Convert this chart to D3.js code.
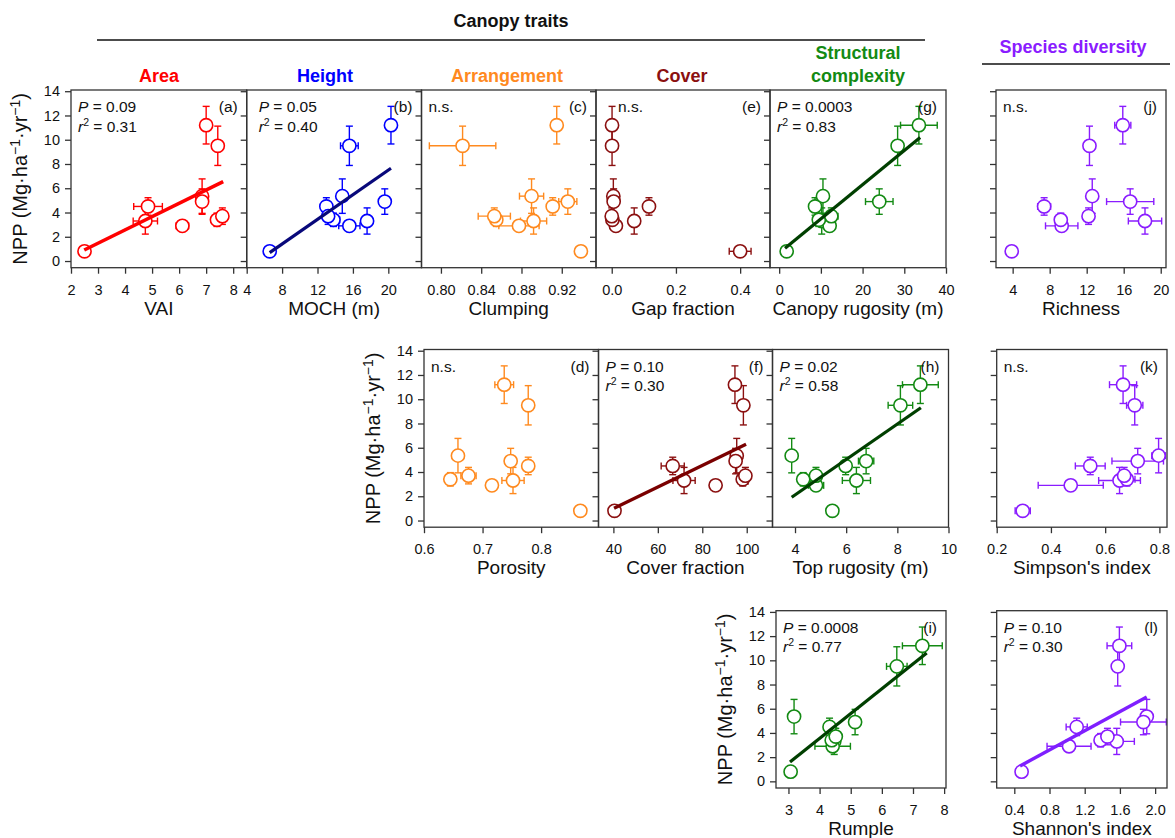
<!DOCTYPE html>
<html>
<head>
<meta charset="utf-8">
<script src="https://cdn.jsdelivr.net/npm/d3@7"></script>
<style>
  body { margin: 0; background: #fff; }
  svg text { font-family: "Liberation Sans", Arial, sans-serif; }
</style>
</head>
<body>
<svg id="chart"></svg>
<script>
// ---- data: ten plots, same order in every array ----
const npp        = [11.2, 9.5, 5.35, 4.9, 4.5, 3.3, 2.9, 3.4, 3.7, 0.8];
const nppSE      = [1.55, 1.62, 1.42, 1.05, 0.72, 1.08, 0, 0.55, 0.68, 0];

const vai        = [7.0, 7.43, 6.85, 6.85, 4.85, 4.75, 6.12, 7.4, 7.6, 2.5];
const vaiSE      = [0, 0, 0, 0, 0.53, 0.45, 0.23, 0, 0.1, 0];
const moch       = [20.3, 15.6, 14.8, 19.6, 13.0, 17.6, 15.6, 13.8, 13.2, 6.6];
const mochSE     = [0.6, 1.0, 0, 0.55, 0.4, 0.6, 1.2, 0.7, 0.3, 0];
const clumping   = [0.915, 0.8215, 0.890, 0.926, 0.911, 0.892, 0.8775, 0.855, 0.853, 0.939];
const clumpingSE = [0, 0.033, 0.012, 0.009, 0.004, 0.013, 0.02, 0.004, 0.016, 0];
const gapFrac    = [0.001, 0.001, 0.005, 0.006, 0.116, 0.07, 0.013, 0.002, 0.0, 0.4];
const gapFracSE  = [0, 0, 0, 0, 0.007, 0.008, 0, 0, 0, 0.034];
const canopyRug  = [33.5, 28.4, 10.5, 24.0, 8.6, 10.2, 12.1, 9.5, 12.5, 1.8];
const canopyRugSE= [4.4, 1.0, 0, 3.3, 0, 0.6, 0, 0.8, 1.6, 0];
const porosity   = [0.737, 0.778, 0.658, 0.748, 0.778, 0.752, 0.716, 0.645, 0.676, 0.867];
const porositySE = [0.016, 0.004, 0, 0.004, 0.006, 0.019, 0, 0.006, 0.013, 0];
const coverFrac  = [94.7, 98.5, 95.5, 95.0, 66.7, 71.8, 86.0, 98.2, 99.4, 40.5];
const coverFracSE= [0, 0, 0, 0, 5.2, 5.0, 0, 0, 0, 1.6];
const topRug     = [8.9, 8.12, 3.87, 6.78, 5.98, 6.4, 4.82, 4.32, 4.82, 5.46];
const topRugSE   = [0.7, 0.48, 0, 0.3, 0, 0.55, 0.3, 0.2, 0, 0];
const rumple     = [7.3, 6.48, 3.18, 5.14, 4.32, 4.47, 4.42, 4.39, 4.52, 3.07];
const rumpleSE   = [0.64, 0.33, 0, 0.15, 0, 0.1, 0.57, 0.1, 0.1, 0];
const richness   = [15.9, 12.3, 12.6, 16.7, 7.4, 18.3, 9.3, 9.2, 12.2, 3.9];
const richnessSE = [0.87, 0.5, 0, 2.55, 0.7, 1.8, 1.75, 0.6, 0.6, 0];
const simpson    = [0.666, 0.709, 0.797, 0.72, 0.545, 0.653, 0.473, 0.68, 0.67, 0.296];
const simpsonSE  = [0.05, 0.03, 0.025, 0.095, 0.055, 0.077, 0.12, 0.03, 0, 0.028];
const shannon    = [1.594, 1.575, 1.905, 1.867, 1.109, 1.564, 1.022, 1.38, 1.458, 0.483];
const shannonSE  = [0.14, 0.05, 0, 0.26, 0.12, 0.2, 0.25, 0.06, 0.04, 0];

// fitted line end points [x, NPP]
const fitVAI       = [[2.49, 0.91], [7.63, 6.55]];
const fitMOCH      = [[6.6, 0.69], [20.3, 7.65]];
const fitCanopyRug = [[1.4, 1.05], [33.8, 10.18]];
const fitCover     = [[40.3, 1.02], [99.7, 6.29]];
const fitTopRug    = [[3.87, 1.92], [8.92, 9.3]];
const fitRumple    = [[3.05, 1.6], [7.44, 10.6]];
const fitShannon   = [[0.465, 1.27], [1.905, 6.97]];

const yTicks = [0, 2, 4, 6, 8, 10, 12, 14];

// colours
const cArea = "#ff0000", cHeight = "#0000ff", cArr = "#ff8a1f", cCover = "#8b1010",
      cStruct = "#138a13", cSpecies = "#8a1cff";

const W = 1175, H = 838;
const svg = d3.select("#chart").attr("width", W).attr("height", H);

// panel layout [left, top, right, bottom]
const r1 = [90, 267.7], r2 = [349.5, 527.2], r3 = [610.7, 788];
const panels = [
  {tag: "(a)", x: vai, xe: vaiSE, xt: "VAI", box: [71, r1[0], 246.7, r1[1]], dom: [2, 8.5], ticks: [2,3,4,5,6,7,8], fmt: "d",
   col: cArea, line: "#ff0000", lw: 3.6, fit: fitVAI, stats: ["0.09", "0.31"], ylab: true},
  {tag: "(b)", x: moch, xe: mochSE, xt: "MOCH (m)", box: [246.7, r1[0], 421.5, r1[1]], dom: [4, 23.75], ticks: [4,8,12,16,20], fmt: "d",
   col: cHeight, line: "#08087a", lw: 3.2, fit: fitMOCH, stats: ["0.05", "0.40"], sx: 12},
  {tag: "(c)", x: clumping, xe: clumpingSE, xt: "Clumping", box: [421.5, r1[0], 596, r1[1]], dom: [0.7807, 0.954], ticks: [0.80,0.84,0.88,0.92], fmt: ".2f",
   col: cArr},
  {tag: "(e)", x: gapFrac, xe: gapFracSE, xt: "Gap fraction", box: [596, r1[0], 770, r1[1]], dom: [-0.049, 0.493], ticks: [0,0.2,0.4], fmt: ".1f",
   col: cCover, sx: 22},
  {tag: "(g)", x: canopyRug, xe: canopyRugSE, xt: "Canopy rugosity (m)", box: [770, r1[0], 946, r1[1]], dom: [-2.2, 40], ticks: [0,10,20,30,40], fmt: "d",
   col: cStruct, line: "#003f00", lw: 3.2, fit: fitCanopyRug, stats: ["0.0003", "0.83"]},
  {tag: "(j)", x: richness, xe: richnessSE, xt: "Richness", box: [996, r1[0], 1166, r1[1]], dom: [2.2, 20.57], ticks: [4,8,12,16,20], fmt: "d",
   col: cSpecies},

  {tag: "(d)", x: porosity, xe: porositySE, xt: "Porosity", box: [424, r2[0], 598.5, r2[1]], dom: [0.6, 0.898], ticks: [0.6,0.7,0.8], fmt: ".1f",
   col: cArr, ylab: true},
  {tag: "(f)", x: coverFrac, xe: coverFracSE, xt: "Cover fraction", box: [598.5, r2[0], 772.5, r2[1]], dom: [33.3, 111.6], ticks: [40,60,80,100], fmt: "d",
   col: cCover, line: "#7a0000", lw: 3.4, fit: fitCover, stats: ["0.10", "0.30"]},
  {tag: "(h)", x: topRug, xe: topRugSE, xt: "Top rugosity (m)", box: [772.5, r2[0], 948.5, r2[1]], dom: [3.12, 10], ticks: [4,6,8,10], fmt: "d",
   col: cStruct, line: "#003f00", lw: 3.2, fit: fitTopRug, stats: ["0.02", "0.58"]},
  {tag: "(k)", x: simpson, xe: simpsonSE, xt: "Simpson's index", box: [996.7, r2[0], 1167, r2[1]], dom: [0.2, 0.828], ticks: [0.2,0.4,0.6,0.8], fmt: ".1f",
   col: cSpecies},

  {tag: "(i)", x: rumple, xe: rumpleSE, xt: "Rumple", box: [776, r3[0], 946, r3[1]], dom: [2.6, 8.06], ticks: [3,4,5,6,7,8], fmt: "d",
   col: cStruct, line: "#003f00", lw: 3.2, fit: fitRumple, stats: ["0.0008", "0.77"], ylab: true},
  {tag: "(l)", x: shannon, xe: shannonSE, xt: "Shannon's index", box: [996.7, r3[0], 1167, r3[1]], dom: [0.2, 2.135], ticks: [0.4,0.8,1.2,1.6,2.0], fmt: ".1f",
   col: cSpecies, line: "#7f1fff", lw: 3.4, fit: fitShannon, stats: ["0.10", "0.30"]}
];

const R = 6.6, CAP = 3.5;

panels.forEach(p => {
  const [x0, y0, x1, y1] = p.box;
  const x = d3.scaleLinear().domain(p.dom).range([x0, x1]);
  const y = d3.scaleLinear().domain([-0.55, 14.1]).range([y1, y0]);
  const g = svg.append("g");

  const pts = p.x.map((v, i) => ({x: v, xe: p.xe[i], y: npp[i], ye: nppSE[i]}));

  // error bars
  const eb = g.append("g").attr("stroke", p.col).attr("stroke-width", 1.4).attr("fill", "none");
  pts.forEach(d => {
    if (d.ye > 0) {
      eb.append("line").attr("x1", x(d.x)).attr("x2", x(d.x)).attr("y1", y(d.y - d.ye)).attr("y2", y(d.y + d.ye));
      [d.y - d.ye, d.y + d.ye].forEach(v =>
        eb.append("line").attr("x1", x(d.x) - CAP).attr("x2", x(d.x) + CAP).attr("y1", y(v)).attr("y2", y(v)));
    }
    if (d.xe > 0) {
      eb.append("line").attr("y1", y(d.y)).attr("y2", y(d.y)).attr("x1", x(d.x - d.xe)).attr("x2", x(d.x + d.xe));
      [d.x - d.xe, d.x + d.xe].forEach(v =>
        eb.append("line").attr("y1", y(d.y) - CAP).attr("y2", y(d.y) + CAP).attr("x1", x(v)).attr("x2", x(v)));
    }
  });

  g.append("g").selectAll("circle").data(pts).join("circle")
    .attr("cx", d => x(d.x)).attr("cy", d => y(d.y)).attr("r", R)
    .attr("fill", "#fff").attr("stroke", p.col).attr("stroke-width", 1.6);

  if (p.fit) {
    g.append("line")
      .attr("x1", x(p.fit[0][0])).attr("y1", y(p.fit[0][1]))
      .attr("x2", x(p.fit[1][0])).attr("y2", y(p.fit[1][1]))
      .attr("stroke", p.line).attr("stroke-width", p.lw).attr("stroke-linecap", "butt");
  }

  // frame
  g.append("rect").attr("x", x0).attr("y", y0).attr("width", x1 - x0).attr("height", y1 - y0)
    .attr("fill", "none").attr("stroke", "#333").attr("stroke-width", 1.3);

  // axes
  const xa = g.append("g").attr("transform", `translate(0,${y1})`)
    .call(d3.axisBottom(x).tickValues(p.ticks).tickSize(6).tickPadding(11).tickFormat(d3.format(p.fmt)));
  const ya = g.append("g").attr("transform", `translate(${x0},0)`)
    .call(d3.axisLeft(y).tickValues(yTicks).tickSize(6).tickPadding(5).tickFormat(p.ylab ? d3.format("d") : ""));
  [xa, ya].forEach(a => {
    a.select(".domain").remove();
    a.selectAll(".tick line").attr("stroke", "#333").attr("stroke-width", 1.3);
    a.selectAll("text").attr("font-size", 14.5).attr("fill", "#111")
      .attr("font-family", "Liberation Sans, Arial, sans-serif");
  });

  // axis title
  g.append("text").attr("x", (x0 + x1) / 2).attr("y", y1 + 47).attr("text-anchor", "middle")
    .attr("font-size", 19).attr("fill", "#111").text(p.xt);

  if (p.ylab) {
    const t = g.append("text").attr("transform", `translate(${x0 - 44},${(y0 + y1) / 2}) rotate(-90)`)
      .attr("text-anchor", "middle").attr("font-size", 20).attr("fill", "#111");
    t.append("tspan").text("NPP (Mg·ha");
    t.append("tspan").attr("dy", -7).attr("font-size", 14).text("−1");
    t.append("tspan").attr("dy", 7).text("·yr");
    t.append("tspan").attr("dy", -7).attr("font-size", 14).text("−1");
    t.append("tspan").attr("dy", 7).text(")");
  }

  // stats and panel tag
  const sx = x0 + (p.sx || 7);
  if (p.stats) {
    const t1 = g.append("text").attr("x", sx).attr("y", y0 + 22).attr("font-size", 15.5).attr("fill", "#111");
    t1.append("tspan").attr("font-style", "italic").text("P");
    t1.append("tspan").text(" = " + p.stats[0]);
    const t2 = g.append("text").attr("x", sx).attr("y", y0 + 41.5).attr("font-size", 15.5).attr("fill", "#111");
    t2.append("tspan").attr("font-style", "italic").text("r");
    t2.append("tspan").attr("dy", -6).attr("font-size", 10.5).text("2");
    t2.append("tspan").attr("dy", 6).text(" = " + p.stats[1]);
  } else {
    g.append("text").attr("x", sx).attr("y", y0 + 22).attr("font-size", 15.5).attr("fill", "#111").text("n.s.");
  }
  g.append("text").attr("x", x1 - 9).attr("y", y0 + 22).attr("text-anchor", "end")
    .attr("font-size", 15.5).attr("fill", "#111").text(p.tag);
});

// ---- headers ----
const hdr = (txt, xc, yb, col) => svg.append("text").attr("x", xc).attr("y", yb).attr("text-anchor", "middle")
  .attr("font-size", 18).attr("font-weight", "bold").attr("fill", col).text(txt);

hdr("Canopy traits", 511, 27, "#111");
svg.append("line").attr("x1", 97).attr("x2", 925).attr("y1", 40).attr("y2", 40).attr("stroke", "#111").attr("stroke-width", 1.6);
hdr("Species diversity", 1073, 53, cSpecies);
svg.append("line").attr("x1", 982).attr("x2", 1170).attr("y1", 64).attr("y2", 64).attr("stroke", "#111").attr("stroke-width", 1.6);

hdr("Area", 159, 82, cArea);
hdr("Height", 325, 82, cHeight);
hdr("Arrangement", 507, 82, cArr);
hdr("Cover", 682, 82, cCover);
hdr("Structural", 858, 59, cStruct);
hdr("complexity", 858, 82, cStruct);
</script>
</body>
</html>
